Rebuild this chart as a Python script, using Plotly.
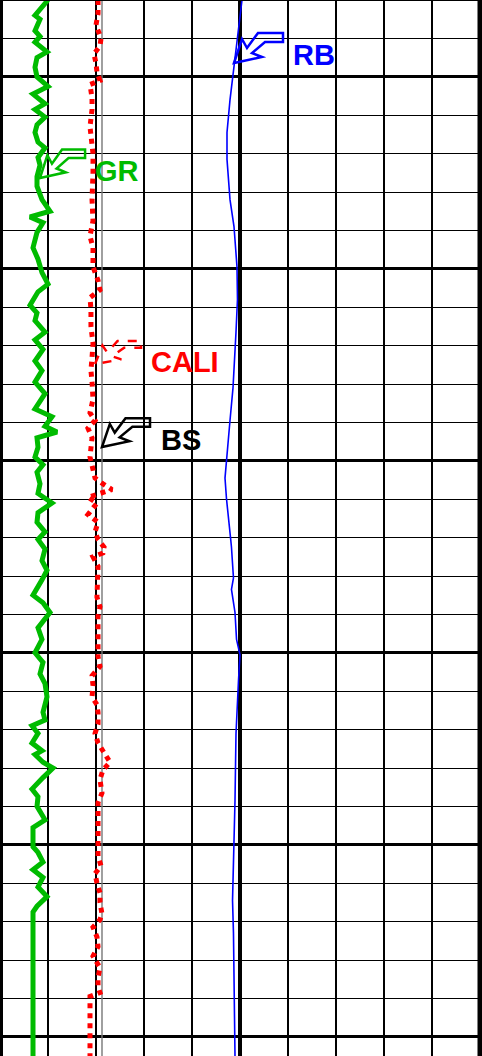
import plotly.graph_objects as go

W, H = 482, 1056
GRID_PX = 480  # width of the gridded track in pixels

# ---------------- data ----------------
depth_top, depth_bot = 1846.0, 1901.0

gr_depth = [1846.0, 1846.4, 1846.8, 1847.0, 1847.6, 1847.9, 1848.2, 1848.7, 1849.0, 1849.5,
            1850.0, 1850.5, 1850.9, 1851.4, 1851.7, 1852.1, 1852.5, 1852.9, 1853.4, 1853.7,
            1854.2, 1854.6, 1855.2, 1855.7, 1856.4, 1857.0, 1857.3, 1857.6, 1858.1, 1858.9,
            1859.5, 1860.2, 1860.8, 1861.2, 1861.9, 1862.3, 1862.7, 1863.3, 1863.7, 1864.2,
            1864.8, 1865.3, 1865.9, 1866.5, 1867.3, 1867.7, 1868.2, 1868.5, 1868.8, 1869.3,
            1869.8, 1870.2, 1870.6, 1871.2, 1871.7, 1872.2, 1872.7, 1873.2, 1873.7, 1874.1,
            1874.6, 1875.2, 1875.7, 1876.2, 1877.0, 1877.4, 1877.9, 1878.7, 1879.3, 1880.0,
            1880.5, 1881.1, 1881.6, 1882.3, 1883.1, 1883.5, 1883.8, 1884.2, 1884.7, 1885.1,
            1885.3, 1885.7, 1886.0, 1886.5, 1887.1, 1887.5, 1888.0, 1888.7, 1889.1, 1890.1,
            1890.4, 1890.9, 1891.3, 1891.7, 1892.2, 1892.7, 1893.2, 1893.5, 1901.0]
gr_api = [12.0, 10.5, 8.75, 10.0, 8.75, 10.0, 8.75, 11.75, 9.25, 8.75,
          9.25, 12.0, 8.25, 11.25, 8.75, 11.25, 9.25, 8.75, 9.5, 11.25,
          9.5, 10.0, 9.25, 9.25, 10.5, 12.5, 7.5, 10.75, 9.25, 8.25,
          9.5, 10.5, 12.0, 9.5, 7.5, 9.25, 8.75, 11.25, 8.75, 10.75,
          8.75, 10.5, 8.75, 11.25, 8.75, 13.0, 11.25, 14.25, 9.25, 9.5,
          8.75, 10.75, 9.25, 10.0, 9.5, 13.0, 9.5, 9.25, 11.25, 9.5,
          11.25, 10.5, 11.75, 10.5, 8.25, 10.75, 12.5, 9.5, 10.5, 8.75,
          10.75, 10.0, 11.25, 11.75, 10.75, 11.25, 8.0, 9.5, 8.0, 10.5,
          8.75, 10.75, 13.25, 10.75, 8.0, 9.5, 9.25, 11.25, 8.25, 8.25,
          9.5, 10.75, 8.25, 10.75, 9.5, 11.75, 9.25, 8.25, 8.25]

cali_depth = [1846.0, 1846.7, 1847.3, 1848.0, 1848.4, 1848.8, 1849.3, 1849.75, 1850.2, 1850.4,
              1851.1, 1851.7, 1852.6, 1853.3, 1854.0, 1855.0, 1856.4, 1857.5, 1858.3, 1858.9,
              1859.9, 1860.6, 1861.1, 1861.5, 1862.1, 1863.0, 1863.9, 1864.6, 1865.3, 1865.9,
              1866.8, 1867.5, 1867.9, 1868.3, 1868.8, 1869.8, 1870.3, 1870.9, 1871.2, 1871.5,
              1871.7, 1871.9, 1872.2, 1872.5, 1872.8, 1873.2, 1873.7, 1874.1, 1874.5, 1874.8,
              1875.0, 1875.5, 1876.4, 1877.1, 1877.6, 1878.1, 1879.2, 1880.2, 1880.7, 1881.2,
              1881.7, 1882.3, 1882.7, 1883.1, 1883.7, 1884.2, 1884.7, 1885.3, 1885.7, 1886.1,
              1886.6, 1887.3, 1887.8, 1888.4, 1889.1, 1889.6, 1890.1, 1890.6, 1891.1, 1891.5,
              1892.0, 1892.5, 1893.0, 1893.6, 1893.9, 1894.3, 1894.8, 1895.3, 1895.8, 1896.4,
              1896.9, 1897.4, 1897.7, 1897.9, 1901.0]
cali_in = [8.17, 8.17, 8.0, 8.42, 8.33, 7.83, 8.0, 8.08, 8.33, 7.5,
           7.67, 7.67, 7.5, 7.58, 7.75, 7.75, 7.67, 7.75, 7.5, 7.75,
           7.75, 8.17, 8.33, 7.5, 7.58, 7.58, 7.75, 7.67, 7.58, 7.67,
           7.75, 7.5, 7.92, 7.33, 7.67, 7.5, 7.67, 7.92, 8.58, 9.33,
           8.33, 7.33, 8.08, 7.75, 7.33, 8.17, 7.92, 8.17, 8.67, 8.58,
           7.75, 8.17, 8.17, 8.08, 8.33, 8.17, 8.17, 8.17, 8.33, 7.67,
           7.75, 7.67, 8.08, 8.17, 8.17, 7.92, 8.17, 8.75, 9.17, 8.58,
           8.33, 8.5, 8.17, 8.17, 8.17, 8.08, 8.08, 8.17, 8.42, 7.92,
           8.08, 8.33, 8.33, 8.5, 8.33, 7.75, 8.08, 8.17, 7.75, 8.33,
           8.17, 8.17, 8.33, 7.5, 7.5]

bs_in = 8.5

rb_depth = [1846.0, 1847.7, 1849.1, 1851.2, 1852.9, 1854.3, 1856.4, 1857.8, 1859.9, 1861.6,
            1863.3, 1866.2, 1867.9, 1868.9, 1870.0, 1870.9, 1872.0, 1873.2, 1874.0, 1874.5,
            1876.1, 1876.7, 1877.9, 1879.3, 1880.1, 1881.4, 1882.8, 1884.2, 1887.7, 1890.4,
            1892.9, 1894.6, 1898.1, 1901.0]
rb_deg = [181.5, 178.5, 176.25, 172.5, 170.25, 170.25, 172.5, 175.5, 177.75, 178.1,
          177.0, 174.75, 172.5, 171.4, 170.25, 168.75, 169.9, 171.4, 172.9, 173.6,
          175.1, 173.6, 176.25, 177.4, 180.0, 178.9, 177.75, 177.0, 176.25, 175.1,
          174.4, 175.1, 175.5, 176.25]

GR_SCALE = (0, 120)     # gAPI
CALI_SCALE = (0, 40)    # in
RB_SCALE = (0, 360)     # deg

labels = ["GR", "RB", "CALI", "BS"]
label_colors = ["#00bb00", "#0000ff", "#ff0000", "#000000"]


def ext(scale):
    lo, hi = scale
    return [lo, lo + (hi - lo) * W / GRID_PX]


fig = go.Figure()

fig.add_trace(go.Scatter(x=gr_api, y=gr_depth, xaxis="x2", yaxis="y", mode="lines",
                         line=dict(color="#00bb00", width=5), name="GR", showlegend=False))
fig.add_trace(go.Scatter(x=[bs_in, bs_in], y=[depth_top, depth_bot], xaxis="x3", yaxis="y",
                         mode="lines", line=dict(color="#777777", width=1.4),
                         name="BS", showlegend=False))
fig.add_trace(go.Scatter(x=cali_in, y=cali_depth, xaxis="x3", yaxis="y", mode="lines",
                         line=dict(color="#ff0000", width=5, dash="5px,5px"),
                         name="CALI", showlegend=False))
fig.add_trace(go.Scatter(x=rb_deg, y=rb_depth, xaxis="x4", yaxis="y", mode="lines",
                         line=dict(color="#0000ff", width=1.6), name="RB", showlegend=False))

# ---------------- callout arrows (decorations, pixel-based) ----------------
ARROW = [(0, 0), (8, -24), (13, -15), (24, -30), (49, -30), (49, -21), (31, -21), (18, -10), (28, -6)]
arrow_tips = [(40, 178, 0.92, 0.95), (234, 63, 1.0, 1.0), (95, 364, 0.94, 0.77), (102, 447, 0.98, 0.96)]
arrow_dash = ["solid", "solid", "dash", "solid"]
label_pos = [(116.5, 171), (313.5, 55), (185, 362), (181, 440)]

shapes = []
for (tx, ty, sx, sy), col, dash in zip(arrow_tips, label_colors, arrow_dash):
    pts = [((tx + sx * dx) / W, 1 - (ty + sy * dy) / H) for dx, dy in ARROW]
    path = "M " + " L ".join(f"{x:.5f},{y:.5f}" for x, y in pts) + " Z"
    shapes.append(dict(type="path", xref="paper", yref="paper", path=path,
                       line=dict(color=col, width=2.5, dash=dash), fillcolor="rgba(0,0,0,0)"))

# track frame and centre line
shapes.append(dict(type="line", xref="x", yref="paper", x0=5, x1=5, y0=0, y1=1,
                   line=dict(color="black", width=4), layer="below"))
shapes.append(dict(type="line", xref="x", yref="paper", x0=0, x1=0, y0=0, y1=1,
                   line=dict(color="black", width=6)))
shapes.append(dict(type="line", xref="x", yref="paper", x0=10, x1=10, y0=0, y1=1,
                   line=dict(color="black", width=5)))
shapes.append(dict(type="line", xref="paper", yref="paper", x0=0, x1=1, y0=1, y1=1,
                   line=dict(color="black", width=2)))

annotations = []
for lab, col, (px, py) in zip(labels, label_colors, label_pos):
    annotations.append(dict(text=lab, x=px / W, y=1 - py / H, xref="paper", yref="paper",
                            xanchor="center", yanchor="middle", showarrow=False,
                            font=dict(family="Liberation Sans, Arial, sans-serif", size=29,
                                      color=col, weight="bold")))

hidden = dict(visible=False, overlaying="x", showgrid=False, zeroline=False)
fig.update_layout(
    width=W, height=H, autosize=False,
    margin=dict(l=0, r=0, t=0, b=0, pad=0),
    paper_bgcolor="white", plot_bgcolor="white",
    xaxis=dict(range=[0, 10 * W / GRID_PX], tick0=0, dtick=1, showgrid=True,
               gridcolor="black", gridwidth=2, showticklabels=False, ticks="",
               zeroline=False, showline=False),
    xaxis2=dict(range=ext(GR_SCALE), **hidden),
    xaxis3=dict(range=ext(CALI_SCALE), **hidden),
    xaxis4=dict(range=ext(RB_SCALE), **hidden),
    yaxis=dict(range=[depth_bot, depth_top], tick0=1850, dtick=10, showgrid=True,
               gridcolor="black", gridwidth=2.5, showticklabels=False, ticks="",
               zeroline=False, showline=False,
               minor=dict(tick0=depth_top, dtick=2, showgrid=True, gridcolor="black",
                          gridwidth=1.2, ticks="")),
    shapes=shapes,
    annotations=annotations,
    showlegend=False,
)

fig.write_html("out.html", config={"displayModeBar": False},
               post_script="document.body.style.margin='0px';document.body.style.overflow='hidden';")
